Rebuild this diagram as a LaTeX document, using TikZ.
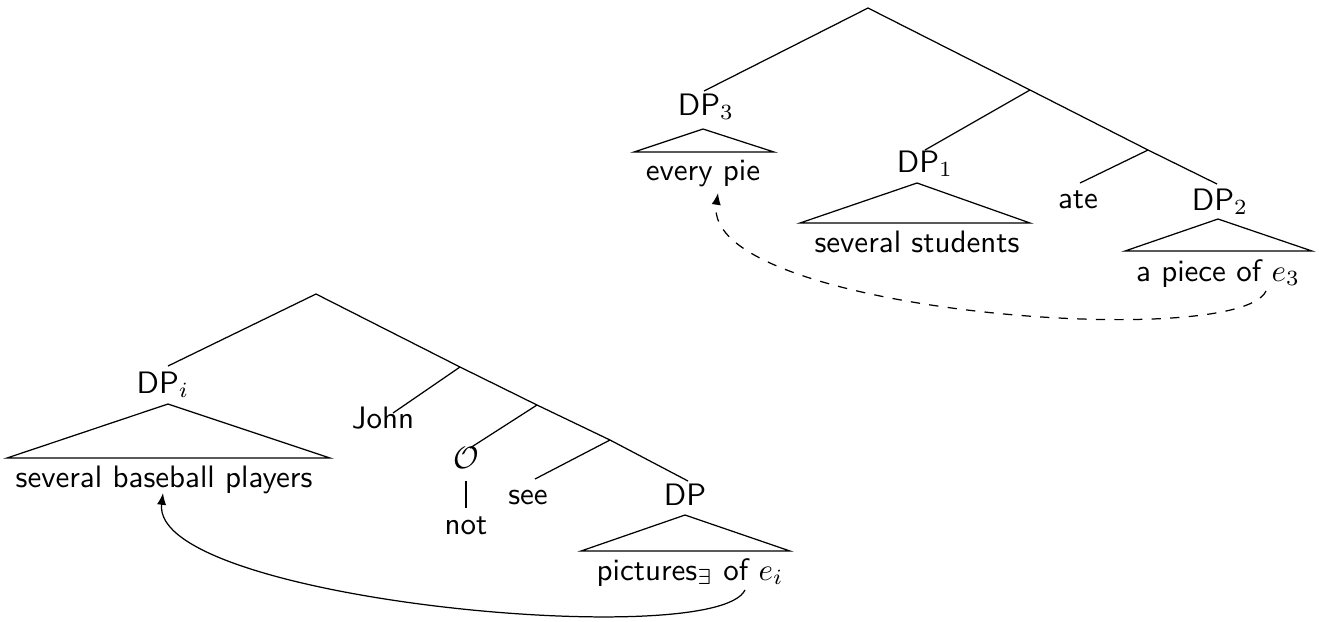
\documentclass[tikz,border=0pt]{standalone}
\usetikzlibrary{arrows.meta}
\begin{document}
\begin{tikzpicture}[x=0.3226pt,y=-0.3226pt,
  lbl/.style={anchor=base,inner sep=0pt,font=\sffamily},
  edge/.style={line width=0.4pt},
  roof/.style={line width=0.4pt,line join=miter},
  movedash/.style={dashed,line width=0.4pt,-{Latex[length=3.8pt,width=3pt]}},
  movesolid/.style={line width=0.4pt,-{Latex[length=3.8pt,width=3pt]}}]
\useasboundingbox (0,0) rectangle (1319,621);

% ---------- upper tree: every pie / several students ate a piece of e3
\coordinate (tA) at (868,8);
\coordinate (tB) at (1030,90);
\coordinate (tC) at (1148,150);
\node[lbl] (dp3) at (706,115) {DP$_3$};
\node[lbl] (dp1) at (925,172) {DP$_1$};
\node[lbl] (ate) at (1078,208) {ate};
\node[lbl] (dp2) at (1220,210) {DP$_2$};
\coordinate (dp3top) at (704,91);
\coordinate (dp1top) at (925,150);
\coordinate (atetop) at (1080,183);
\coordinate (dp2top) at (1217,184);
\draw[edge] (dp3top) -- (tA) -- (tB) -- (tC) -- (dp2top);
\draw[edge] (tB) -- (dp1top);
\draw[edge] (tC) -- (atetop);

\coordinate (r3) at (703,129);
\draw[roof] (r3) -- (634,152) -- (774,152) -- cycle;
\node[lbl] (everypie) at (703,180) {every pie};
\coordinate (r1) at (917,183);
\draw[roof] (r1) -- (800,223) -- (1030,223) -- cycle;
\node[lbl] (sevstud) at (917,252) {several students};
\coordinate (r2) at (1218,219);
\draw[roof] (r2) -- (1125,251) -- (1312,251) -- cycle;
\node[lbl] (piece) at (1218,281) {a piece of $e_3$};

\coordinate (gapE) at (1266,291);
\coordinate (gapP) at (718,193);
\draw[movedash] (gapE) .. controls (1238,352) and (700,312) .. (gapP);

% ---------- lower tree: several baseball players John O not see pictures of e_i
\coordinate (bA) at (316,294);
\coordinate (bB) at (460,367);
\coordinate (bC) at (537,405);
\coordinate (bD) at (610,440);
\node[lbl] (dpi) at (163,393) {DP$_i$};
\node[lbl] (john) at (383,428) {John};
\node[lbl] (op) at (466,468) {$\mathcal{O}$};
\node[lbl] (not) at (466,534) {not};
\node[lbl] (see) at (528,504) {see};
\node[lbl] (dp) at (685,505) {DP};
\coordinate (dpitop) at (168,366);
\coordinate (johntop) at (393,413);
\coordinate (optop) at (470,448);
\coordinate (seetop) at (535,479);
\coordinate (dptop) at (688,481);
\draw[edge] (dpitop) -- (bA) -- (bB) -- (bC) -- (bD) -- (dptop);
\draw[edge] (bB) -- (johntop);
\draw[edge] (bC) -- (optop);
\draw[edge] (bD) -- (seetop);
\coordinate (opbot) at (466,481);
\coordinate (nottop) at (466,508);
\draw[edge] (opbot) -- (nottop);

\coordinate (ri) at (168,404);
\draw[roof] (ri) -- (7,458) -- (330,458) -- cycle;
\node[lbl] (sbp) at (164,487) {several baseball players};
\coordinate (rd) at (685,515);
\draw[roof] (rd) -- (581,551) -- (790,551) -- cycle;
\node[lbl] (pics) at (690,580) {pictures$_\exists$ of $e_i$};

\coordinate (trE) at (745,590);
\coordinate (trP) at (163,493);
\draw[movesolid] (trE) .. controls (715,652) and (150,600) .. (trP);
\end{tikzpicture}
\end{document}
